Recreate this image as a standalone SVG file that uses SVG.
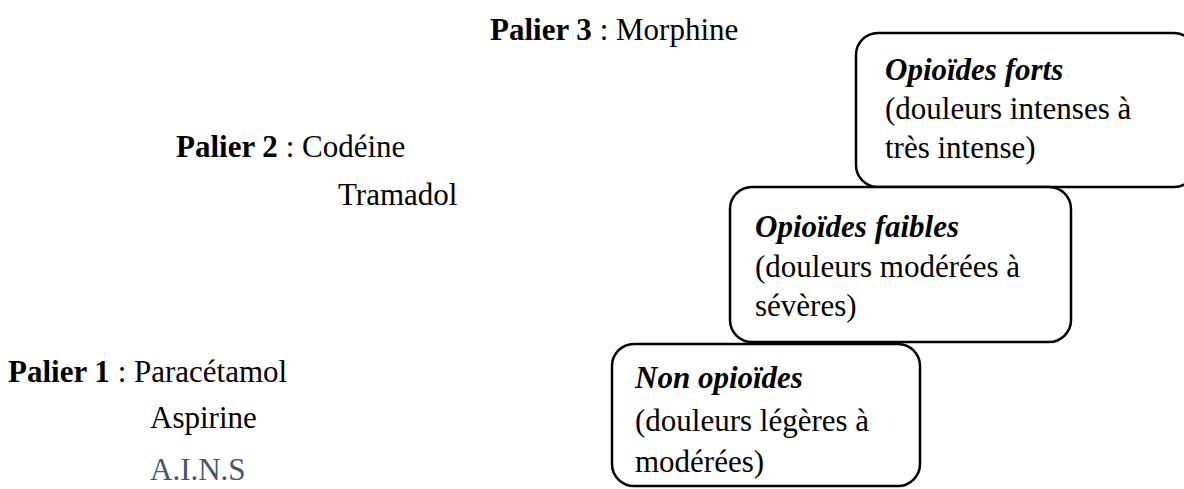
<svg xmlns="http://www.w3.org/2000/svg" width="1184" height="489" viewBox="0 0 1184 489">
<style>
text{font-family:"Liberation Serif","Times New Roman",serif;font-size:31px;fill:#000}
.b{font-weight:bold}
.bi{font-weight:bold;font-style:italic}
.box{fill:#fff;stroke:#000;stroke-width:2.5}
.blue{fill:#44546A}
</style>
<rect width="1184" height="489" fill="#fff"/>
<g id="palier3"><text x="490" y="40"><tspan class="b">Palier 3</tspan> : Morphine</text></g>
<g id="palier2"><text x="176" y="157"><tspan class="b">Palier 2</tspan> : Codéine</text><text x="338" y="205">Tramadol</text></g>
<g id="palier1"><text x="8" y="382"><tspan class="b">Palier 1</tspan> : Paracétamol</text><text x="150" y="428">Aspirine</text><text x="150" y="480" class="blue">A.I.N.S</text></g>
<g id="opioides-forts"><rect class="box" x="856" y="33" width="340" height="154" rx="22"/><text x="885" y="80" class="bi">Opioïdes forts</text><text x="885" y="119">(douleurs intenses à</text><text x="885" y="158">très intense)</text></g>
<g id="opioides-faibles"><rect class="box" x="730" y="187" width="341" height="155" rx="22"/><text x="755" y="237" class="bi">Opioïdes faibles</text><text x="755" y="277">(douleurs modérées à</text><text x="755" y="316">sévères)</text></g>
<g id="non-opioides"><rect class="box" x="612" y="344" width="308" height="142" rx="22"/><text x="635" y="388" class="bi">Non opioïdes</text><text x="635" y="431">(douleurs légères à</text><text x="635" y="472">modérées)</text></g>
<g id="connectors"/>
</svg>
